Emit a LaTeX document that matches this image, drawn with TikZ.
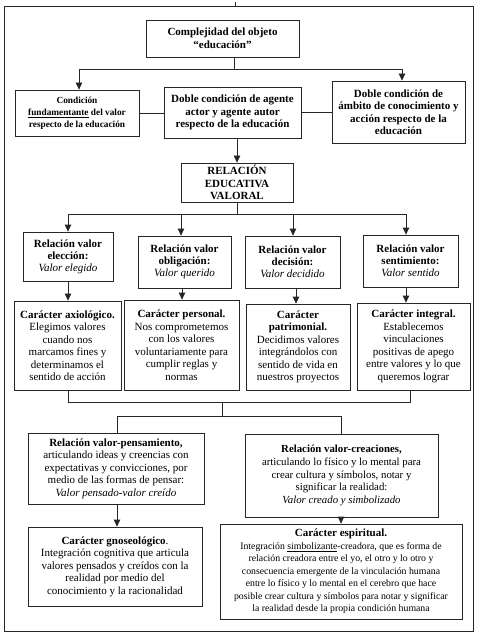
\documentclass[tikz,border=0pt]{standalone}
\usepackage{fontspec}
\setmainfont{Liberation Serif}
\usetikzlibrary{arrows.meta}
\begin{document}
\begin{tikzpicture}[x=1pt,y=-1pt,
  box/.style={draw=black!85, line width=0.8pt, align=center, inner sep=1pt, font=\fontsize{11}{12.5}\selectfont},
  ln/.style={draw=black!85, line width=0.8pt},
  arr/.style={ln, -{Triangle[length=7pt,width=6.5pt]}}]
\useasboundingbox (0,0) rectangle (479,636);
\draw[ln] (4,6) rectangle (473,631);
\coordinate (tick) at (235,2);
\draw[ln] (tick) -- (235,6);

\node[box, minimum width=153pt, minimum height=37pt] (top) at (222.5,38.5) {\textbf{Complejidad del objeto}\\\textbf{“educación”}};
\node[box, minimum width=124pt, minimum height=46pt, font=\fontsize{9.3}{12}\selectfont] (left1) at (77,113) {\textbf{Condición}\\\textbf{\underline{fundamentante} del valor}\\\textbf{respecto de la educación}};
\node[box, minimum width=137pt, minimum height=51pt] (mid1) at (232.5,112.5) {\textbf{Doble condición de agente}\\\textbf{actor y agente autor}\\\textbf{respecto de la educación}};
\node[box, minimum width=133pt, minimum height=62pt] (right1) at (398.5,112) {\textbf{Doble condición de}\\\textbf{ámbito de conocimiento y}\\\textbf{acción respecto de la}\\\textbf{educación}};
\node[box, minimum width=112pt, minimum height=39pt] (rel) at (237,182.5) {\textbf{RELACIÓN}\\\textbf{EDUCATIVA}\\\textbf{VALORAL}};

\node[box, minimum width=90pt, minimum height=49pt, font=\fontsize{11}{12}\selectfont] (r1) at (68,256.5) {\textbf{Relación valor}\\\textbf{elección:}\\\textit{Valor elegido}};
\node[box, minimum width=93pt, minimum height=52pt, font=\fontsize{11}{12}\selectfont] (r2) at (184.5,262) {\textbf{Relación valor}\\\textbf{obligación:}\\\textit{Valor querido}};
\node[box, minimum width=95pt, minimum height=52pt, font=\fontsize{11}{12}\selectfont] (r3) at (292.5,262) {\textbf{Relación valor}\\\textbf{decisión:}\\\textit{Valor decidido}};
\node[box, minimum width=95pt, minimum height=52pt, font=\fontsize{11}{12}\selectfont] (r4) at (410.5,261) {\textbf{Relación valor}\\\textbf{sentimiento:}\\\textit{Valor sentido}};

\node[box, minimum width=107pt, minimum height=89pt] (c1) at (67.5,345.5) {\textbf{Carácter axiológico.}\\Elegimos valores\\cuando nos\\marcamos fines y\\determinamos el\\sentido de acción};
\node[box, minimum width=115pt, minimum height=90pt] (c2) at (181.5,345) {\textbf{Carácter personal.}\\Nos comprometemos\\con los valores\\voluntariamente para\\cumplir reglas y\\normas};
\node[box, minimum width=104pt, minimum height=86pt] (c3) at (298,347) {\textbf{Carácter}\\\textbf{patrimonial.}\\Decidimos valores\\integrándolos con\\sentido de vida en\\nuestros proyectos};
\node[box, minimum width=113pt, minimum height=87pt] (c4) at (413.5,346.5) {\textbf{Carácter integral.}\\Establecemos\\vinculaciones\\positivas de apego\\entre valores y lo que\\queremos lograr};

\node[box, minimum width=176pt, minimum height=71pt] (L) at (116,468.5) {\textbf{Relación valor-pensamiento,}\\articulando ideas y creencias con\\expectativas y convicciones, por\\medio de las formas de pensar:\\\textit{Valor pensado-valor creído}};
\node[box, minimum width=193pt, minimum height=83pt, font=\fontsize{10.8}{12.7}\selectfont] (R) at (341.5,475.5) {\textbf{Relación valor-creaciones,}\\articulando lo físico y lo mental para\\crear cultura y símbolos, notar y\\significar la realidad:\\\textit{Valor creado y simbolizado}};
\node[box, minimum width=174pt, minimum height=79pt] (G) at (115,566.5) {\textbf{Carácter gnoseológico}.\\Integración cognitiva que articula\\valores pensados y creídos con la\\realidad por medio del\\conocimiento y la racionalidad};
\node[box, minimum width=242pt, minimum height=95pt, font=\fontsize{9.8}{12.5}\selectfont] (E) at (341,571.5) {{\fontsize{11}{13}\selectfont\textbf{Carácter espiritual.}}\\Integración \underline{simbolizante}-creadora, que es forma de\\relación creadora entre el yo, el otro y lo otro y\\consecuencia emergente de la vinculación humana\\entre lo físico y lo mental en el cerebro que hace\\posible crear cultura y símbolos para notar y significar\\la realidad desde la propia condición humana};

% connectors
\coordinate (j1) at (234,69);
\coordinate (h1l) at (79,69);
\coordinate (h1r) at (402,69);
\draw[ln] (top.south -| j1) -- (j1);
\draw[ln] (h1l) -- (h1r);
\draw[arr] (h1l) -- (h1l |- left1.north);
\draw[arr] (h1r) -- (h1r |- right1.north);
\draw[ln] (left1.east) -- (left1.east -| mid1.west);
\draw[ln] (mid1.east) -- (mid1.east -| right1.west);
\draw[arr] (rel.north |- mid1.south) -- (rel.north);

\coordinate (j2) at (237,214);
\coordinate (h2l) at (68,214);
\coordinate (h2a) at (181,214);
\coordinate (h2b) at (293,214);
\coordinate (h2r) at (406,214);
\draw[ln] (rel.south) -- (j2);
\draw[ln] (h2l) -- (h2r);
\draw[arr] (h2l) -- (h2l |- r1.north);
\draw[arr] (h2a) -- (h2a |- r2.north);
\draw[arr] (h2b) -- (h2b |- r3.north);
\draw[arr] (h2r) -- (h2r |- r4.north);

\coordinate (v1) at (68,0);
\coordinate (v2) at (182,0);
\coordinate (v3) at (296,0);
\coordinate (v4) at (406,0);
\draw[arr] (v1 |- r1.south) -- (v1 |- c1.north);
\draw[arr] (v2 |- r2.south) -- (v2 |- c2.north);
\draw[arr] (v3 |- r3.south) -- (v3 |- c3.north);
\draw[arr] (v4 |- r4.south) -- (v4 |- c4.north);

\coordinate (b1) at (68,402);
\coordinate (b4) at (410,402);
\coordinate (bc) at (222,402);
\coordinate (j3) at (222,416);
\coordinate (h3l) at (117,416);
\coordinate (h3r) at (341,416);
\draw[ln] (b1 |- c1.south) -- (b1) -- (b4) -- (b4 |- c4.south);
\draw[ln] (bc) -- (j3);
\draw[ln] (h3l |- L.north) -- (h3l) -- (h3r) -- (h3r |- R.north);
\draw[arr] (h3l |- L.south) -- (h3l |- G.north);
\draw[arr] (h3r |- R.south) -- (h3r |- E.north);
\end{tikzpicture}
\end{document}
